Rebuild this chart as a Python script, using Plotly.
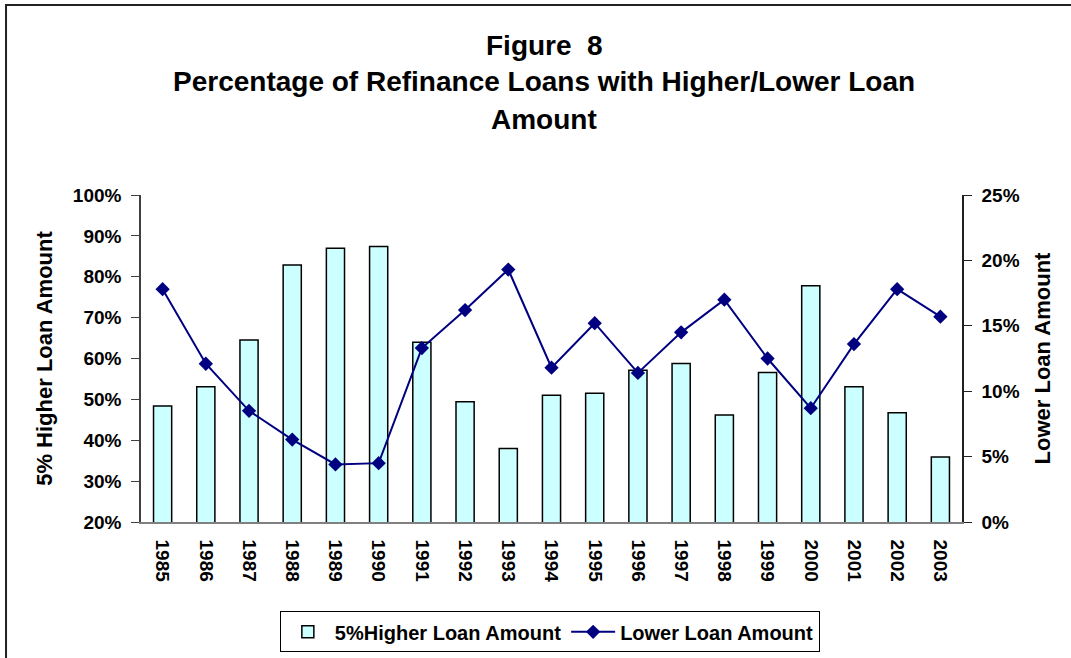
import plotly.graph_objects as go

years = [str(y) for y in range(1985, 2004)]

# % of refinance loans with 5% higher loan amount (left axis)
higher_pct = [48.4, 53.1, 64.5, 82.9, 87.0, 87.4, 64.0, 49.4, 38.0, 51.0,
              51.5, 57.1, 58.8, 46.2, 56.6, 77.8, 53.1, 46.7, 35.9]

# % of refinance loans with lower loan amount (right axis)
lower_pct = [17.8, 12.1, 8.5, 6.3, 4.4, 4.5, 13.3, 16.2, 19.3, 11.8,
             15.2, 11.4, 14.5, 17.0, 12.5, 8.7, 13.6, 17.8, 15.7]

left_ticks = [20, 30, 40, 50, 60, 70, 80, 90, 100]
right_ticks = [0, 5, 10, 15, 20, 25]

FONT = "Liberation Sans, Arial, sans-serif"


def bold(s):
    return f"<b>{s}</b>"


fig = go.Figure()
fig.add_trace(go.Bar(
    x=years,
    y=higher_pct,
    name=bold("5%Higher Loan Amount"),
    marker=dict(color="#CCFFFF", line=dict(color="black", width=1.5)),
    yaxis="y",
))
fig.add_trace(go.Scatter(
    x=years,
    y=lower_pct,
    name=bold("Lower Loan Amount"),
    mode="lines+markers",
    line=dict(color="#000080", width=2),
    marker=dict(symbol="diamond", size=11, color="#000080"),
    yaxis="y2",
))

# title lines, placed one by one to match the wide line spacing
title_lines = ["Figure  8",
               "Percentage of Refinance Loans with Higher/Lower Loan",
               "Amount"]
title_y = [1.4587, 1.3456, 1.2324]
for txt, ty in zip(title_lines, title_y):
    fig.add_annotation(text=bold(txt), xref="paper", yref="paper",
                       x=0.491, y=ty, showarrow=False,
                       xanchor="center", yanchor="middle",
                       font=dict(family=FONT, size=28, color="black"))

fig.update_layout(
    width=1071,
    height=658,
    margin=dict(l=141, r=109, t=195, b=136, autoexpand=False),
    paper_bgcolor="white",
    plot_bgcolor="white",
    font=dict(family=FONT, color="black"),
    showlegend=True,
    bargap=0.58,
    legend=dict(
        orientation="h",
        x=0.498, y=-0.336,
        xanchor="center", yanchor="middle",
        bordercolor="black", borderwidth=1,
        font=dict(family=FONT, size=20, color="black"),
        itemwidth=44,
        traceorder="normal",
    ),
    xaxis=dict(
        type="category",
        range=[-0.5, 18.5],
        tickangle=90,
        tickfont=dict(family=FONT, size=19, color="black"),
        tickprefix="<b>", ticksuffix="</b>",
        ticklabelstandoff=12,
        showline=True, linecolor="#808080", linewidth=1.5,
        showgrid=False, ticks="", automargin=False,
    ),
    yaxis=dict(
        range=[20, 100],
        tickvals=left_ticks,
        ticktext=[bold(f"{v}%") for v in left_ticks],
        tickfont=dict(family=FONT, size=19, color="black"),
        ticks="outside", ticklen=8, tickcolor="#404040",
        ticklabelstandoff=6,
        showline=True, linecolor="#404040", linewidth=1.5,
        showgrid=False, zeroline=False, automargin=False,
        title=dict(text=bold("5% Higher Loan Amount"), standoff=14,
                   font=dict(family=FONT, size=22, color="black")),
    ),
    yaxis2=dict(
        range=[0, 25],
        overlaying="y",
        side="right",
        tickvals=right_ticks,
        ticktext=[bold(f"{v}%") for v in right_ticks],
        tickfont=dict(family=FONT, size=19, color="black"),
        ticks="outside", ticklen=8, tickcolor="#202020",
        ticklabelstandoff=6,
        showline=True, linecolor="#202020", linewidth=1.5,
        showgrid=False, zeroline=False, automargin=False,
        title=dict(text=bold("Lower Loan Amount"), standoff=16,
                   font=dict(family=FONT, size=22, color="black")),
    ),
    shapes=[dict(
        type="rect", xref="paper", yref="paper",
        x0=-0.1644, x1=1.3, y0=-0.6, y1=1.581,
        line=dict(color="#222222", width=2),
        fillcolor="rgba(0,0,0,0)", layer="above",
    )],
)

# drop the default page margin so the figure sits at the window corner
fig.write_html("out.html", config={"displayModeBar": False},
               post_script="document.body.style.margin='0';")
